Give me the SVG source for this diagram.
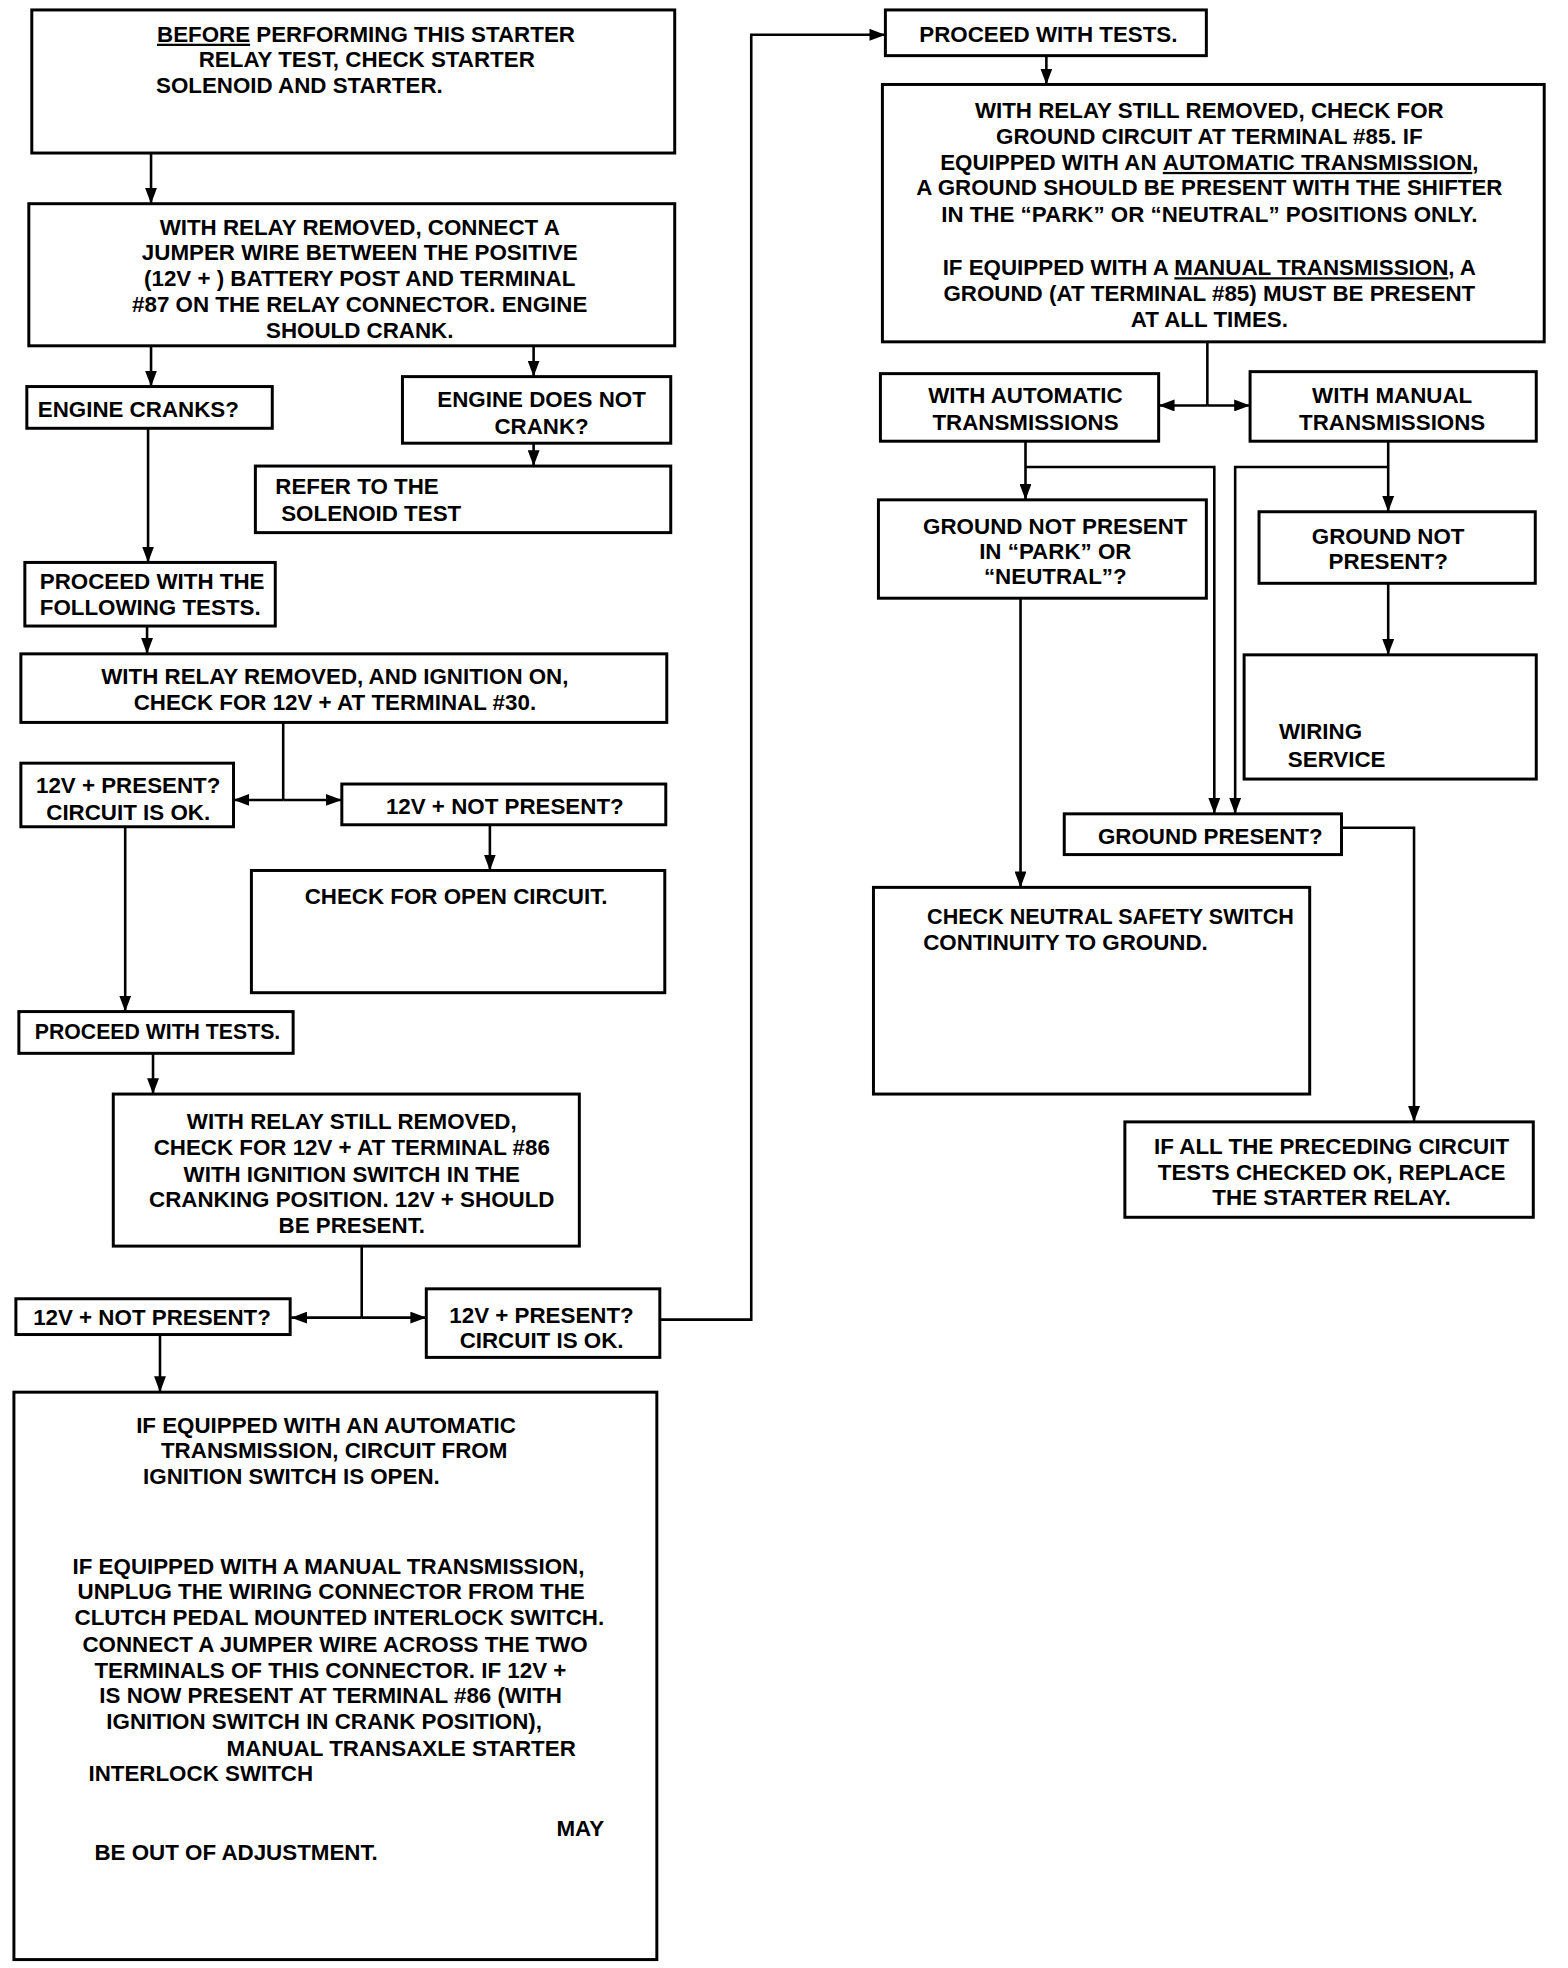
<svg xmlns="http://www.w3.org/2000/svg" width="1568" height="1968" viewBox="0 0 1568 1968">
<style>
.b{fill:#fff;stroke:#000;stroke-width:3}
.t{font-family:"Liberation Sans",Arial,sans-serif;font-weight:bold;font-size:22.5px;fill:#000}
.m{text-anchor:middle}
.c{fill:none;stroke:#000;stroke-width:2.6}
.u{text-decoration:underline}
</style>
<defs>
<marker id="ah" markerUnits="userSpaceOnUse" viewBox="0 0 16 12" refX="16" refY="6" markerWidth="16" markerHeight="12" orient="auto">
<path d="M0,0 L16,6 L0,12 z" fill="#000"/>
</marker>
</defs>
<rect width="1568" height="1968" fill="#fff"/>
<g id="diagram" transform="scale(0.9937)">
<g id="connectors">
<path class="c" d="M152,154 V205" marker-end="url(#ah)"/>
<path class="c" d="M152,348 V389" marker-end="url(#ah)"/>
<path class="c" d="M537,348 V379" marker-end="url(#ah)"/>
<path class="c" d="M537,446 V469" marker-end="url(#ah)"/>
<path class="c" d="M149,431 V566" marker-end="url(#ah)"/>
<path class="c" d="M148,630 V658" marker-end="url(#ah)"/>
<path class="c" d="M285,727 V805"/>
<path class="c" d="M285,805 H235" marker-end="url(#ah)"/>
<path class="c" d="M285,805 H344" marker-end="url(#ah)"/>
<path class="c" d="M493,830 V876" marker-end="url(#ah)"/>
<path class="c" d="M126,832 V1018" marker-end="url(#ah)"/>
<path class="c" d="M154,1060 V1101" marker-end="url(#ah)"/>
<path class="c" d="M364,1254 V1326"/>
<path class="c" d="M364,1326 H293" marker-end="url(#ah)"/>
<path class="c" d="M364,1326 H429" marker-end="url(#ah)"/>
<path class="c" d="M664,1328 H756 V35 H891" marker-end="url(#ah)"/>
<path class="c" d="M161,1343 V1401" marker-end="url(#ah)"/>
<path class="c" d="M1053,56 V85" marker-end="url(#ah)"/>
<path class="c" d="M1215,344 V408"/>
<path class="c" d="M1215,408 H1166" marker-end="url(#ah)"/>
<path class="c" d="M1215,408 H1258" marker-end="url(#ah)"/>
<path class="c" d="M1032,444 V503" marker-end="url(#ah)"/>
<path class="c" d="M1032,470 H1222 V819" marker-end="url(#ah)"/>
<path class="c" d="M1397,444 V515" marker-end="url(#ah)"/>
<path class="c" d="M1397,470 H1243 V819" marker-end="url(#ah)"/>
<path class="c" d="M1027,602 V893" marker-end="url(#ah)"/>
<path class="c" d="M1397,587 V659" marker-end="url(#ah)"/>
<path class="c" d="M1350,833 H1423 V1129" marker-end="url(#ah)"/>
</g>

<g id="n1">
<rect class="b" x="32" y="10" width="647" height="144"/>
<text class="t" x="158" y="42"><tspan class="u">BEFORE</tspan> PERFORMING THIS STARTER</text>
<text class="t" x="200" y="67">RELAY TEST, CHECK STARTER</text>
<text class="t" x="157" y="94">SOLENOID AND STARTER.</text>
</g>

<g id="n2">
<rect class="b" x="29" y="205" width="650" height="143"/>
<text class="t m" x="362" y="236">WITH RELAY REMOVED, CONNECT A</text>
<text class="t m" x="362" y="262">JUMPER WIRE BETWEEN THE POSITIVE</text>
<text class="t m" x="362" y="288">(12V + ) BATTERY POST AND TERMINAL</text>
<text class="t m" x="362" y="314">#87 ON THE RELAY CONNECTOR. ENGINE</text>
<text class="t m" x="362" y="340">SHOULD CRANK.</text>
</g>

<g id="n3">
<rect class="b" x="27" y="389" width="247" height="42"/>
<text class="t" x="38" y="420">ENGINE CRANKS?</text>
</g>

<g id="n4">
<rect class="b" x="405" y="379" width="270" height="67"/>
<text class="t m" x="545" y="410">ENGINE DOES NOT</text>
<text class="t m" x="545" y="437">CRANK?</text>
</g>

<g id="n5">
<rect class="b" x="257" y="469" width="418" height="67"/>
<text class="t" x="277" y="497">REFER TO THE</text>
<text class="t" x="283" y="524">SOLENOID TEST</text>
</g>

<g id="n6">
<rect class="b" x="25" y="566" width="252" height="64"/>
<text class="t" x="40" y="593">PROCEED WITH THE</text>
<text class="t" x="40" y="619">FOLLOWING TESTS.</text>
</g>

<g id="n7">
<rect class="b" x="21" y="658" width="650" height="69"/>
<text class="t m" x="337" y="688">WITH RELAY REMOVED, AND IGNITION ON,</text>
<text class="t m" x="337" y="714">CHECK FOR 12V + AT TERMINAL #30.</text>
</g>

<g id="n8">
<rect class="b" x="21" y="768" width="214" height="64"/>
<text class="t m" x="129" y="798">12V + PRESENT?</text>
<text class="t m" x="129" y="825">CIRCUIT IS OK.</text>
</g>

<g id="n9">
<rect class="b" x="344" y="789" width="326" height="41"/>
<text class="t m" x="508" y="819">12V + NOT PRESENT?</text>
</g>

<g id="n10">
<rect class="b" x="253" y="876" width="416" height="123"/>
<text class="t m" x="459" y="910">CHECK FOR OPEN CIRCUIT.</text>
</g>

<g id="n11">
<rect class="b" x="19" y="1018" width="276" height="42"/>
<text class="t" x="35" y="1046" textLength="247" lengthAdjust="spacingAndGlyphs">PROCEED WITH TESTS.</text>
</g>

<g id="n12">
<rect class="b" x="114" y="1101" width="469" height="153"/>
<text class="t m" x="354" y="1136">WITH RELAY STILL REMOVED,</text>
<text class="t m" x="354" y="1162">CHECK FOR 12V + AT TERMINAL #86</text>
<text class="t m" x="354" y="1189">WITH IGNITION SWITCH IN THE</text>
<text class="t m" x="354" y="1215">CRANKING POSITION. 12V + SHOULD</text>
<text class="t m" x="354" y="1241">BE PRESENT.</text>
</g>

<g id="n13">
<rect class="b" x="16" y="1307" width="276" height="36"/>
<text class="t m" x="153" y="1333">12V + NOT PRESENT?</text>
</g>

<g id="n14">
<rect class="b" x="429" y="1297" width="235" height="69"/>
<text class="t m" x="545" y="1331">12V + PRESENT?</text>
<text class="t m" x="545" y="1357">CIRCUIT IS OK.</text>
</g>

<g id="n15">
<rect class="b" x="14" y="1401" width="647" height="571"/>
<text class="t" x="137" y="1442">IF EQUIPPED WITH AN AUTOMATIC</text>
<text class="t" x="162" y="1467">TRANSMISSION, CIRCUIT FROM</text>
<text class="t" x="144" y="1493">IGNITION SWITCH IS OPEN.</text>
<text class="t" x="73" y="1584">IF EQUIPPED WITH A MANUAL TRANSMISSION,</text>
<text class="t" x="78" y="1609">UNPLUG THE WIRING CONNECTOR FROM THE</text>
<text class="t" x="75" y="1635">CLUTCH PEDAL MOUNTED INTERLOCK SWITCH.</text>
<text class="t" x="83" y="1662">CONNECT A JUMPER WIRE ACROSS THE TWO</text>
<text class="t" x="95" y="1689">TERMINALS OF THIS CONNECTOR. IF 12V +</text>
<text class="t" x="100" y="1714">IS NOW PRESENT AT TERMINAL #86 (WITH</text>
<text class="t" x="107" y="1740">IGNITION SWITCH IN CRANK POSITION),</text>
<text class="t" x="228" y="1767">MANUAL TRANSAXLE STARTER</text>
<text class="t" x="89" y="1792">INTERLOCK SWITCH</text>
<text class="t" x="560" y="1848">MAY</text>
<text class="t" x="95" y="1872">BE OUT OF ADJUSTMENT.</text>
</g>

<g id="n16">
<rect class="b" x="891" y="10" width="323" height="46"/>
<text class="t m" x="1055" y="42">PROCEED WITH TESTS.</text>
</g>

<g id="n17">
<rect class="b" x="888" y="85" width="666" height="259"/>
<text class="t m" x="1217" y="119">WITH RELAY STILL REMOVED, CHECK FOR</text>
<text class="t m" x="1217" y="145">GROUND CIRCUIT AT TERMINAL #85. IF</text>
<text class="t m" x="1217" y="171">EQUIPPED WITH AN <tspan class="u">AUTOMATIC TRANSMISSION</tspan>,</text>
<text class="t m" x="1217" y="196">A GROUND SHOULD BE PRESENT WITH THE SHIFTER</text>
<text class="t m" x="1217" y="223">IN THE “PARK” OR “NEUTRAL” POSITIONS ONLY.</text>
<text class="t m" x="1217" y="277">IF EQUIPPED WITH A <tspan class="u">MANUAL TRANSMISSION</tspan>, A</text>
<text class="t m" x="1217" y="303">GROUND (AT TERMINAL #85) MUST BE PRESENT</text>
<text class="t m" x="1217" y="329">AT ALL TIMES.</text>
</g>

<g id="n18">
<rect class="b" x="886" y="376" width="280" height="68"/>
<text class="t m" x="1032" y="406">WITH AUTOMATIC</text>
<text class="t m" x="1032" y="433">TRANSMISSIONS</text>
</g>

<g id="n19">
<rect class="b" x="1258" y="374" width="288" height="70"/>
<text class="t m" x="1401" y="406">WITH MANUAL</text>
<text class="t m" x="1401" y="433">TRANSMISSIONS</text>
</g>

<g id="n20">
<rect class="b" x="884" y="503" width="330" height="99"/>
<text class="t m" x="1062" y="537">GROUND NOT PRESENT</text>
<text class="t m" x="1062" y="563">IN “PARK” OR</text>
<text class="t m" x="1062" y="588">“NEUTRAL”?</text>
</g>

<g id="n21">
<rect class="b" x="1267" y="515" width="278" height="72"/>
<text class="t m" x="1397" y="547">GROUND NOT</text>
<text class="t m" x="1397" y="573">PRESENT?</text>
</g>

<g id="n22">
<rect class="b" x="1252" y="659" width="294" height="125"/>
<text class="t" x="1287" y="744">WIRING</text>
<text class="t" x="1296" y="772">SERVICE</text>
</g>

<g id="n23">
<rect class="b" x="1071" y="819" width="279" height="41"/>
<text class="t m" x="1218" y="849">GROUND PRESENT?</text>
</g>

<g id="n24">
<rect class="b" x="879" y="893" width="439" height="208"/>
<text class="t" x="933" y="930" textLength="369" lengthAdjust="spacingAndGlyphs">CHECK NEUTRAL SAFETY SWITCH</text>
<text class="t" x="929" y="956">CONTINUITY TO GROUND.</text>
</g>

<g id="n25">
<rect class="b" x="1132" y="1129" width="411" height="96"/>
<text class="t m" x="1340" y="1161">IF ALL THE PRECEDING CIRCUIT</text>
<text class="t m" x="1340" y="1187">TESTS CHECKED OK, REPLACE</text>
<text class="t m" x="1340" y="1213">THE STARTER RELAY.</text>
</g>
</g>
</svg>
